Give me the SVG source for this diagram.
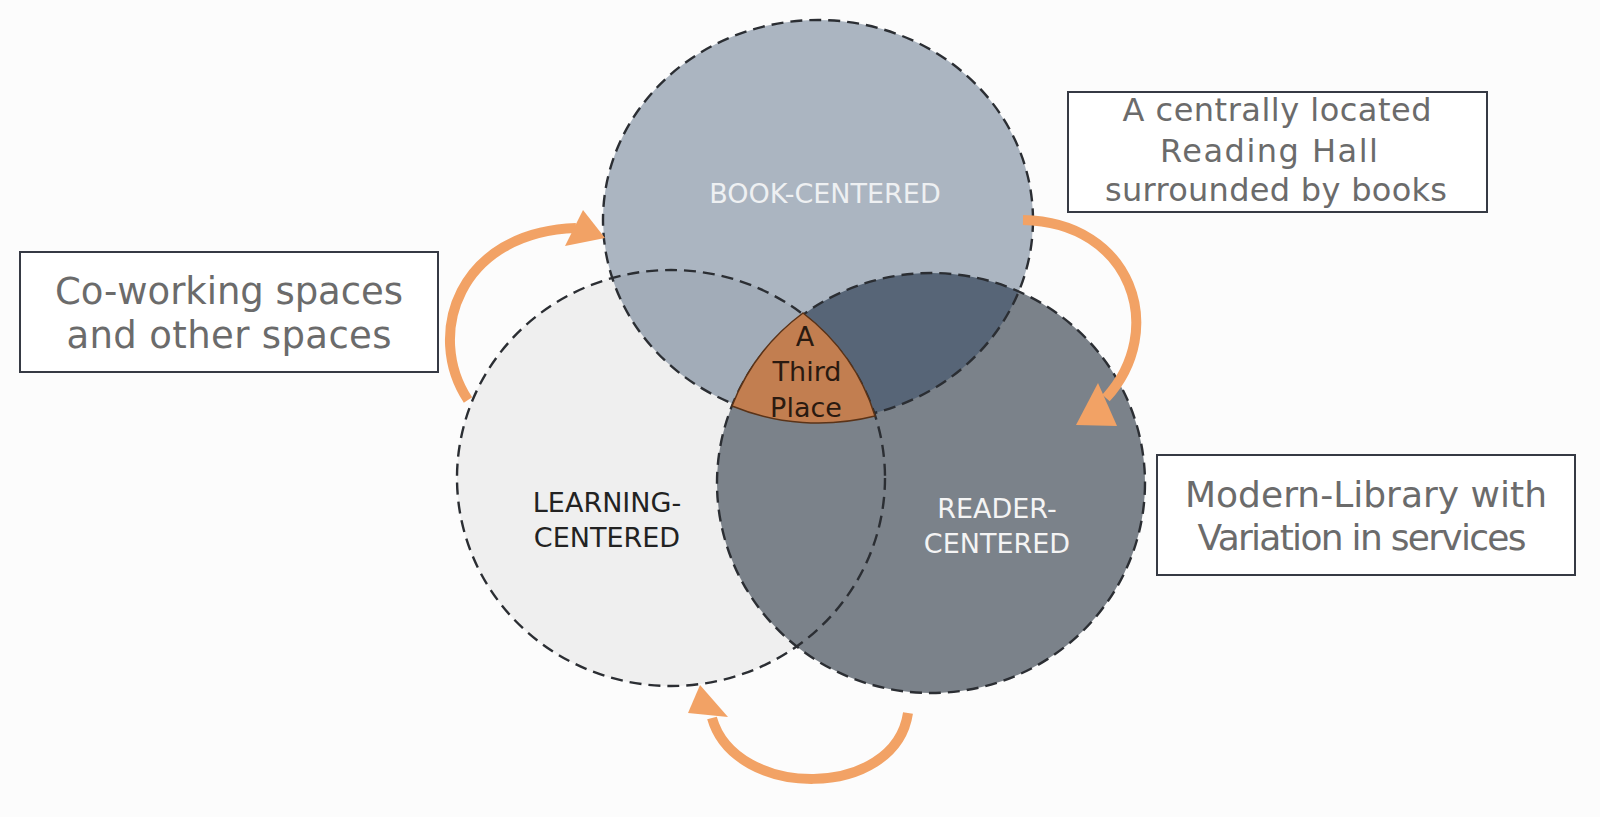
<svg xmlns="http://www.w3.org/2000/svg" width="1600" height="817" viewBox="0 0 1600 817">
<style>
.outline{fill:none;stroke:#2b2e33;stroke-width:2.4;stroke-dasharray:12 7}
.lbl{font-family:"DejaVu Sans","Liberation Sans",sans-serif;font-size:27px;text-anchor:middle}
.tp{font-family:"DejaVu Sans","Liberation Sans",sans-serif;font-size:27px;text-anchor:middle;fill:#2a1a10}
.box{fill:#ffffff;stroke:#363a44;stroke-width:2}
.btxt{font-family:"DejaVu Sans","Liberation Sans",sans-serif;fill:#6b6b6b;text-anchor:middle}
.arr{fill:none;stroke:#f2a265;stroke-width:10}
.head{fill:#f2a265}
</style>
<rect width="1600" height="817" fill="#fcfcfc"/>
<g id="learning">
<ellipse cx="671" cy="478" rx="214" ry="208" fill="#efefef"/>
</g>
<g id="reader">
<ellipse cx="931" cy="483" rx="214" ry="210" fill="#7b828a"/>
</g>
<g id="book">
<ellipse cx="818" cy="220" rx="215" ry="200" fill="rgb(19,50,84)" fill-opacity="0.35"/>
</g>
<g id="outlines">
<ellipse class="outline" cx="671" cy="478" rx="214" ry="208"/>
<ellipse class="outline" cx="931" cy="483" rx="214" ry="210"/>
<ellipse class="outline" cx="818" cy="220" rx="215" ry="200"/>
</g>
<g id="third-place">
<path d="M 803 313 A 214 210 0 0 0 732 406 A 215 200 0 0 0 875 416 A 214 208 0 0 0 803 313 Z" fill="#c27e50" stroke="#5a3318" stroke-width="1.5"/>
<text class="tp" x="805" y="346">A</text>
<text class="tp" x="807" y="381">Third</text>
<text class="tp" x="806" y="417">Place</text>
</g>
<g id="labels">
<text class="lbl" x="825" y="203" fill="#eef0f2">BOOK-CENTERED</text>
<text class="lbl" x="607" y="512" fill="#222222">LEARNING-</text>
<text class="lbl" x="607" y="547" fill="#222222">CENTERED</text>
<text class="lbl" x="997" y="518" fill="#f4f4f4">READER-</text>
<text class="lbl" x="997" y="553" fill="#f4f4f4">CENTERED</text>
</g>
<g id="box-reading-hall">
<rect class="box" x="1068" y="92" width="419" height="120"/>
<text class="btxt" x="1277" y="121" font-size="32" textLength="309">A centrally located</text>
<text class="btxt" x="1269" y="162" font-size="32" textLength="218">Reading Hall</text>
<text class="btxt" x="1276" y="201" font-size="32" textLength="342">surrounded by books</text>
</g>
<g id="box-coworking">
<rect class="box" x="20" y="252" width="418" height="120"/>
<text class="btxt" x="229" y="304" font-size="37" textLength="348">Co-working spaces</text>
<text class="btxt" x="229" y="348" font-size="37" textLength="325">and other spaces</text>
</g>
<g id="box-modern">
<rect class="box" x="1157" y="455" width="418" height="120"/>
<text class="btxt" x="1366" y="507" font-size="36" textLength="362">Modern-Library with</text>
<text class="btxt" x="1362" y="550" font-size="36" textLength="329">Variation in services</text>
</g>
<g id="connectors">
<path class="arr" d="M 468 400 C 425 335, 458 232, 576 228"/>
<polygon class="head" points="583,210 605,238 565,246"/>
<path class="arr" d="M 1023 220 C 1132 222, 1168 330, 1106 398"/>
<polygon class="head" points="1098,383 1117,426 1076,425"/>
<path class="arr" d="M 908 713 C 895 800, 735 800, 712 718"/>
<polygon class="head" points="700,685 728,717 688,713"/>
</g>
</svg>
